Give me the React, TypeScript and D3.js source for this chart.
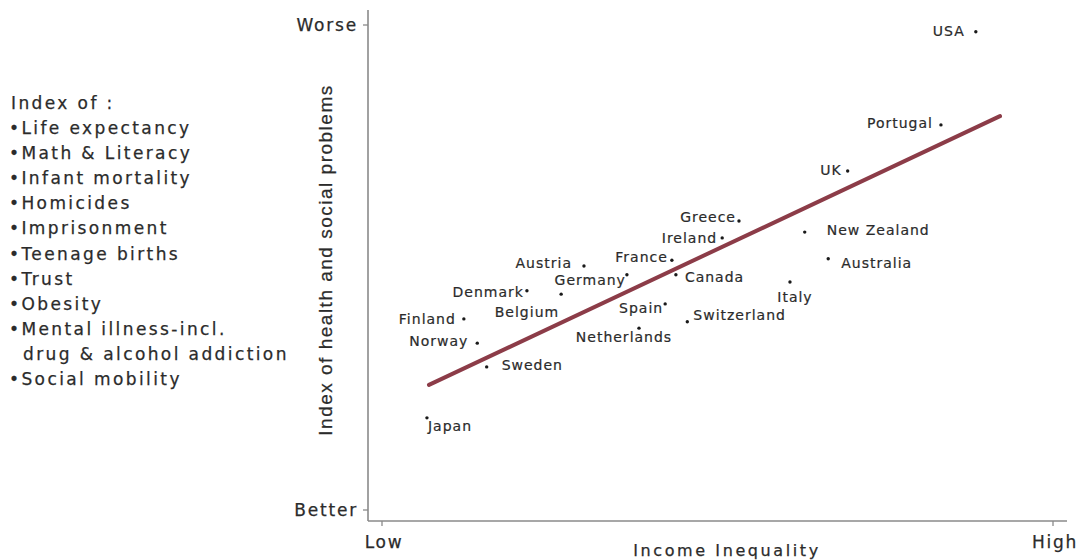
import React from "react";
import * as d3 from "d3";

// ---- Data (arbitrary 0–100 index scales) ----
const countries = ["USA","Portugal","UK","Greece","Ireland","New Zealand","Australia","France","Canada","Italy","Switzerland","Spain","Netherlands","Germany","Austria","Denmark","Belgium","Finland","Norway","Sweden","Japan"];
const inequality = [88.5,83.3,69.4,53.2,50.7,63.0,66.5,43.2,43.8,60.8,45.5,42.2,38.3,36.5,30.1,21.6,26.7,12.2,14.2,15.6,6.7];
const problems = [98.6,79.4,69.9,59.6,56.1,57.3,51.8,51.5,48.5,47.0,38.8,42.5,37.5,48.5,50.3,45.2,44.5,39.4,34.4,29.5,19.0];
const fitX = [7.0, 92.1];
const fitY = [25.8, 81.2];
const xTickValues = [0, 100];
const xTickLabels = ["Low", "High"];
const yTickValues = [0, 100];
const yTickLabels = ["Better", "Worse"];
const indexHeader = "Index of :";
const indexItems = ["Life expectancy","Math & Literacy","Infant mortality","Homicides","Imprisonment","Teenage births","Trust","Obesity","Mental illness-incl.","drug & alcohol addiction","Social mobility"];
const continuation = [false,false,false,false,false,false,false,false,false,true,false];

// ---- Label placement (layout, relative to each dot) ----
const labelLayout: Record<string, { dx: number; dy: number; anchor: string }> = {
  "USA": { dx: -11, dy: -1, anchor: "end" },
  "Portugal": { dx: -8, dy: -2, anchor: "end" },
  "UK": { dx: -6, dy: -1, anchor: "end" },
  "Greece": { dx: -3, dy: -4, anchor: "end" },
  "Ireland": { dx: -5, dy: 0, anchor: "end" },
  "New Zealand": { dx: 22, dy: -2, anchor: "start" },
  "Australia": { dx: 13, dy: 4, anchor: "start" },
  "France": { dx: -4, dy: -3, anchor: "end" },
  "Canada": { dx: 9, dy: 2, anchor: "start" },
  "Italy": { dx: 5, dy: 15, anchor: "middle" },
  "Switzerland": { dx: 6, dy: -7, anchor: "start" },
  "Spain": { dx: -2, dy: 4, anchor: "end" },
  "Netherlands": { dx: -15, dy: 9, anchor: "middle" },
  "Germany": { dx: -1, dy: 5, anchor: "end" },
  "Austria": { dx: -12, dy: -3, anchor: "end" },
  "Denmark": { dx: -3, dy: 1, anchor: "end" },
  "Belgium": { dx: -2, dy: 18, anchor: "end" },
  "Finland": { dx: -8, dy: 0, anchor: "end" },
  "Norway": { dx: -9, dy: -2, anchor: "end" },
  "Sweden": { dx: 15, dy: -2, anchor: "start" },
  "Japan": { dx: 1, dy: 8, anchor: "start" },
};

const W = 1086, H = 560;
const frame = { left: 368, right: 1067, top: 10, bottom: 521 };
const FONT = "'DejaVu Sans', Verdana, sans-serif";
const TEXT = "#2b2b2b";
const AXIS = "#8a8a8a";

export default function App() {
  const x = d3.scaleLinear().domain([0, 100]).range([382, 1053]);
  const y = d3.scaleLinear().domain([0, 100]).range([510, 25]);
  const line = d3.line<number>().x((_, i) => x(fitX[i])).y((_, i) => y(fitY[i]));

  return (
    <svg width={W} height={H} style={{ position: "absolute", left: 0, top: 0, background: "#fff" }} fontFamily={FONT}>
      <g stroke={TEXT} strokeWidth={0.25}>
        {/* Left index list */}
        <g fill={TEXT} fontSize={17} letterSpacing={2.4}>
          <text x={11} y={109}>{indexHeader}</text>
          {indexItems.map((t, i) => (
            <text key={t} x={continuation[i] ? 23 : 9} y={134 + i * 25.1}>
              {continuation[i] ? t : "\u2022" + t}
            </text>
          ))}
        </g>

        {yTickValues.map((v, i) => (
          <text key={"ytl" + v} x={frame.left - 10} y={y(v)} dy="0.35em" textAnchor="end" fontSize={17} letterSpacing={1.8} fill={TEXT}>
            {yTickLabels[i]}
          </text>
        ))}
        {xTickValues.map((v, i) => (
          <text key={"xtl" + v} x={x(v) + 2} y={frame.bottom + 27} textAnchor="middle" fontSize={17} letterSpacing={1.7} fill={TEXT}>
            {xTickLabels[i]}
          </text>
        ))}
        <text x={727} y={556} textAnchor="middle" fontSize={16} letterSpacing={2.6} fill={TEXT}>Income Inequality</text>
        <text transform={`translate(332, ${260}) rotate(-90)`} textAnchor="middle" fontSize={19}
          fontFamily="'Liberation Sans', Arial, sans-serif" fill={TEXT} letterSpacing={1.5}>
          Index of health and social problems
        </text>
      </g>

      {/* Axes */}
      <line x1={frame.left} x2={frame.left} y1={frame.top} y2={frame.bottom} stroke={AXIS} strokeWidth={1.6} />
      <line x1={frame.left} x2={frame.right} y1={frame.bottom} y2={frame.bottom} stroke={AXIS} strokeWidth={1.6} />
      {yTickValues.map((v) => (
        <line key={"yt" + v} x1={frame.left - 5} x2={frame.left} y1={y(v)} y2={y(v)} stroke={AXIS} strokeWidth={1.3} />
      ))}
      {xTickValues.map((v) => (
        <line key={"xt" + v} x1={x(v)} x2={x(v)} y1={frame.bottom} y2={frame.bottom + 5} stroke={AXIS} strokeWidth={1.3} />
      ))}

      {/* Fit line */}
      <path d={line(fitX) || ""} fill="none" stroke="#8c3c48" strokeWidth={4} strokeLinecap="round" />

      {/* Points and labels */}
      {countries.map((c, i) => {
        const cx = x(inequality[i]), cy = y(problems[i]);
        const L = labelLayout[c];
        return (
          <g key={c}>
            <circle cx={cx} cy={cy} r={1.7} fill="#1a1a1a" />
            <text x={cx + L.dx} y={cy + L.dy} dy="0.35em" textAnchor={L.anchor} fontSize={14} letterSpacing={1}
              fill={TEXT} stroke={TEXT} strokeWidth={0.2}>
              {c}
            </text>
          </g>
        );
      })}
    </svg>
  );
}
